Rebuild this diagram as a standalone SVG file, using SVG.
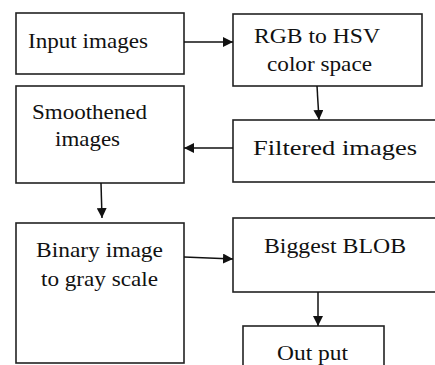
<svg xmlns="http://www.w3.org/2000/svg" width="435" height="365" viewBox="0 0 435 365">
<style>
.box{fill:#fff;stroke:#222;stroke-width:1.6}
.t{font-family:'Liberation Serif','Times New Roman','DejaVu Serif',serif;font-size:21px;fill:#111}
.e{stroke:#111;stroke-width:1.5;fill:none;marker-end:url(#ah)}
</style>
<defs>
<marker id="ah" viewBox="0 0 10 10" refX="10" refY="5" markerWidth="10" markerHeight="10" markerUnits="userSpaceOnUse" orient="auto">
<path d="M0,0 L10,5 L0,10 Z" fill="#111"/>
</marker>
</defs>
<rect width="435" height="365" fill="#fff"/>
<g id="input"><rect class="box" x="16" y="13" width="168" height="61"/><text class="t" x="28" y="48" textLength="120" lengthAdjust="spacingAndGlyphs">Input images</text></g>
<g id="rgb"><rect class="box" x="233" y="14" width="189" height="72"/><text class="t" x="254" y="43" textLength="126" lengthAdjust="spacingAndGlyphs">RGB to HSV</text><text class="t" x="267" y="71" textLength="105" lengthAdjust="spacingAndGlyphs">color space</text></g>
<g id="smooth"><rect class="box" x="16" y="86" width="168" height="97"/><text class="t" x="32" y="119" textLength="115" lengthAdjust="spacingAndGlyphs">Smoothened</text><text class="t" x="55" y="146" textLength="65" lengthAdjust="spacingAndGlyphs">images</text></g>
<g id="filtered"><rect class="box" x="233" y="120" width="210" height="62"/><text class="t" x="253" y="155" textLength="164" lengthAdjust="spacingAndGlyphs">Filtered images</text></g>
<g id="binary"><rect class="box" x="16" y="223" width="168" height="140"/><text class="t" x="36" y="257" textLength="127" lengthAdjust="spacingAndGlyphs">Binary image</text><text class="t" x="41" y="286" textLength="117" lengthAdjust="spacingAndGlyphs">to gray scale</text></g>
<g id="blob"><rect class="box" x="233" y="218" width="210" height="74"/><text class="t" x="264" y="253" textLength="142" lengthAdjust="spacingAndGlyphs">Biggest BLOB</text></g>
<g id="output"><rect class="box" x="243" y="326" width="141" height="50"/><text class="t" x="277" y="360" textLength="71" lengthAdjust="spacingAndGlyphs">Out put</text></g>
<g id="connectors">
<line class="e" x1="184" y1="42" x2="233" y2="42"/>
<line class="e" x1="317" y1="86" x2="319" y2="120"/>
<line class="e" x1="233" y1="148" x2="184" y2="148"/>
<line class="e" x1="101" y1="183" x2="102" y2="218"/>
<line class="e" x1="184" y1="257" x2="233" y2="259"/>
<line class="e" x1="318" y1="292" x2="318" y2="326"/>
</g>
</svg>
